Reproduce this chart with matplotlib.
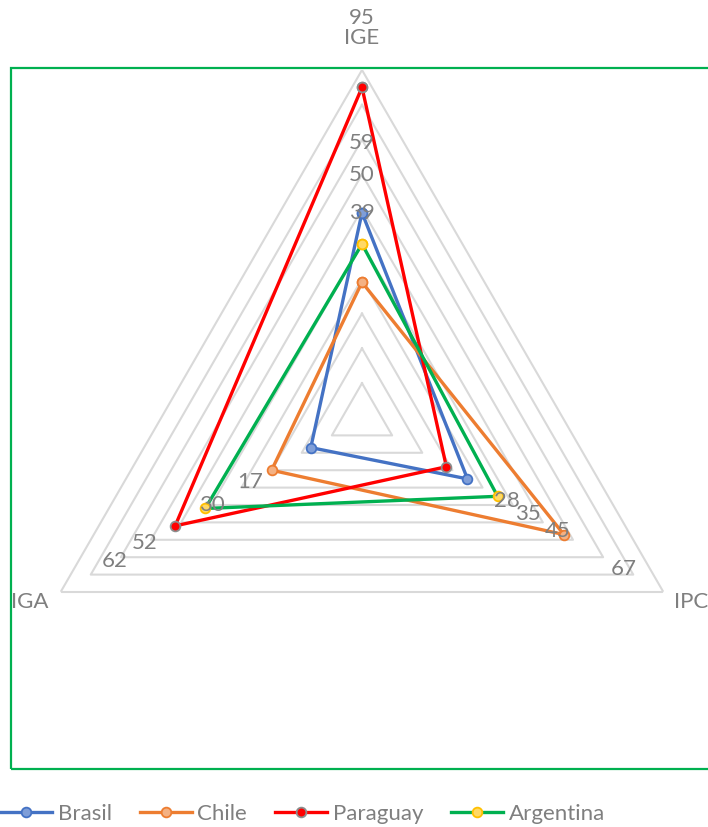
import numpy as np
import matplotlib
matplotlib.use("Agg")
import matplotlib.pyplot as plt
from matplotlib.patches import Rectangle

plt.rcParams["font.family"] = ["Lato", "DejaVu Sans"]

# axes go clockwise from the top, as in the Excel radar
categories = ["IGE", "IPC", "IGA"]
series_names = ["Brasil", "Chile", "Paraguay", "Argentina"]
brasil = [59, 35, 17]
chile = [39, 67, 30]
paraguay = [95, 28, 62]
argentina = [50, 45, 52]
grid_levels = [10, 20, 30, 40, 50, 60, 70, 80, 90, 100]

LINE_COLOR = ["#4472C4", "#ED7D31", "#FF0000", "#00B050"]
FACE_COLOR = ["#7F9ED8", "#F4B183", "#FF0000", "#FFD966"]
EDGE_COLOR = ["#4472C4", "#ED7D31", "#8C8C8C", "#FFC000"]
TXT = "#7F7F7F"

W, H = 708, 827
fig = plt.figure(figsize=(W / 100, H / 100), dpi=100)

# radar centre at (362, 418) px, outer radius 348 px
cx, cy, rad = 362 / W, 1 - 418 / H, 348
ax = fig.add_axes([cx - rad / W, cy - rad / H, 2 * rad / W, 2 * rad / H], projection="polar")
ax.set_theta_offset(np.pi / 2)
ax.set_theta_direction(-1)
ax.set_ylim(0, 100)
ax.grid(False)
ax.set_xticks([])
ax.set_yticks([])
ax.spines["polar"].set_visible(False)
ax.patch.set_visible(False)

theta = np.linspace(0, 2 * np.pi, len(categories), endpoint=False)
closed = np.append(theta, theta[0])

for lv in grid_levels:
    ax.plot(closed, [lv] * len(closed), color="#D9D9D9", lw=1.5, zorder=1)

handles = []
for i, vals in enumerate([brasil, chile, paraguay, argentina]):
    v = vals + vals[:1]
    (h,) = ax.plot(closed, v, color=LINE_COLOR[i], lw=2.4, marker="o", ms=7,
                   mfc=FACE_COLOR[i], mec=EDGE_COLOR[i], mew=1.3,
                   label=series_names[i], zorder=3 + i)
    handles.append(h)
    for t, val in zip(theta, vals):
        ang = np.pi / 2 - t
        ax.annotate(str(val), (t, val), xytext=(50 * np.cos(ang), 50 * np.sin(ang)),
                    textcoords="offset points", ha="center", va="center",
                    fontsize=16, color=TXT, zorder=10, annotation_clip=False)

# category names beyond the outer triangle
cat_off = [(0, 23), (20, -7), (-22, -7)]
for t, name, off in zip(theta, categories, cat_off):
    ax.annotate(name, (t, 100), xytext=off, textcoords="offset points",
                ha="center", va="center", fontsize=16, color=TXT, annotation_clip=False)

# green plot-area border (right side runs off the image)
fig.add_artist(Rectangle((11 / W, 1 - 769 / H), 1.0, (769 - 68) / H,
                         transform=fig.transFigure, fill=False,
                         edgecolor="#00B050", lw=1.6, clip_on=False))

leg = fig.legend(handles=handles, loc="center left", bbox_to_anchor=(0, 1 - 814 / H),
                 ncol=4, frameon=False, fontsize=16, handlelength=2.35,
                 handletextpad=0.25, columnspacing=1.25, borderpad=0, borderaxespad=0)
for t in leg.get_texts():
    t.set_color(TXT)

fig.savefig("out.png", dpi=100)
